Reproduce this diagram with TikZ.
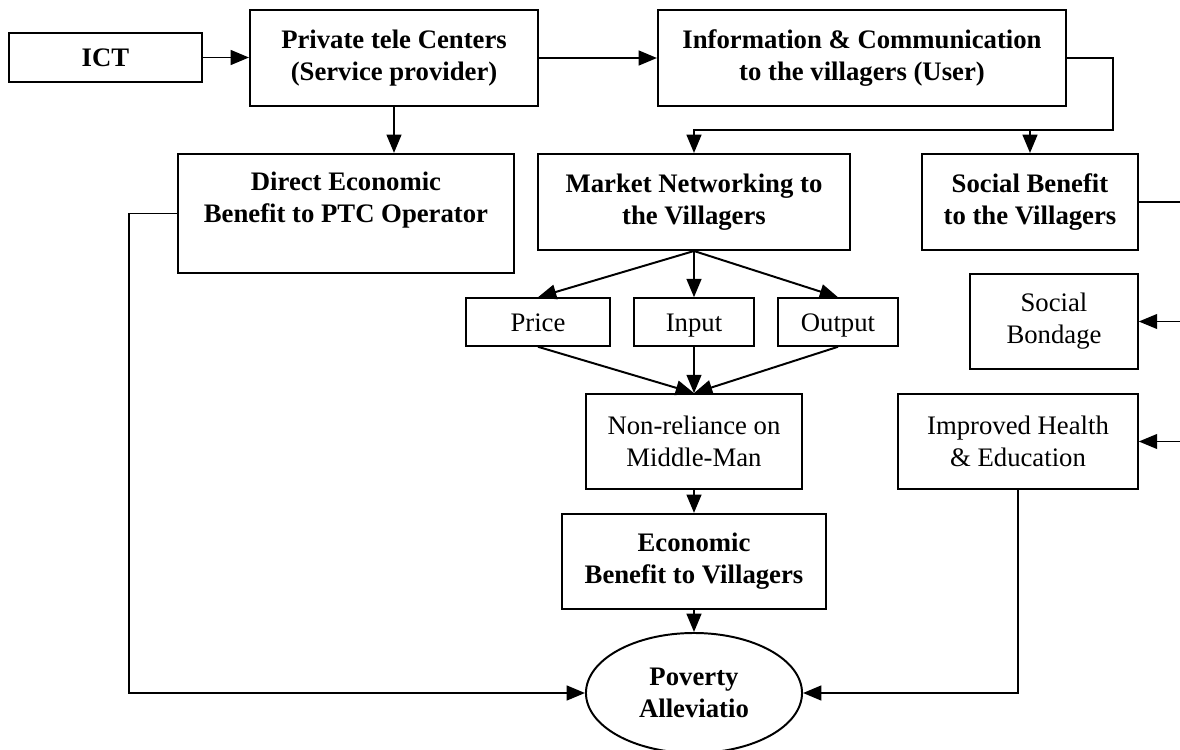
\documentclass[tikz,border=0pt]{standalone}
\usepackage{fontspec}
\setmainfont{Liberation Serif}
\usepackage{tikz}
\usetikzlibrary{shapes.geometric,arrows.meta}

\begin{document}
\begin{tikzpicture}[x=0.025cm,y=-0.025cm,line width=1.4pt,
  >={Triangle[length=13pt,width=10.5pt]},
  blk/.style={draw,rectangle,inner sep=0pt,align=center,font=\fontsize{19}{22.8}\selectfont\bfseries},
  plain/.style={draw,rectangle,inner sep=0pt,align=center,line width=1.1pt,font=\fontsize{19}{22.8}\selectfont},
  tag/.style={plain,minimum height=1.2cm,text height=16pt,text depth=2pt}]
\useasboundingbox (0,0) rectangle (1180,750);
\node[blk,minimum width=4.83cm,minimum height=1.23cm] (ict) at (105.5,57.5) {ICT};
\node[blk,minimum width=7.2cm,minimum height=2.4cm] (ptc) at (394,58) {Private tele Centers\\(Service provider)};
\node[blk,minimum width=10.2cm,minimum height=2.4cm] (info) at (862,58) {Information \& Communication\\to the villagers (User)};
\node[blk,minimum width=8.4cm,minimum height=2.98cm] (deb) at (346,213.5) {Direct Economic\\Benefit to PTC Operator\\\mbox{}};
\node[blk,minimum width=7.8cm,minimum height=2.4cm] (mkt) at (694,202) {Market Networking to\\the Villagers};
\node[blk,minimum width=5.4cm,minimum height=2.4cm] (soc) at (1030,202) {Social Benefit\\to the Villagers};
\node[tag,minimum width=3.6cm] (price) at (538,322) {Price};
\node[tag,minimum width=3cm] (input) at (694,322) {Input};
\node[tag,minimum width=3cm] (output) at (838,322) {Output};
\node[plain,minimum width=4.2cm,minimum height=2.38cm] (bond) at (1054,321.5) {Social\\Bondage};
\node[plain,minimum width=5.4cm,minimum height=2.38cm] (nonrel) at (694,441.5) {Non-reliance on\\Middle-Man};
\node[plain,minimum width=6cm,minimum height=2.38cm] (health) at (1018,441.5) {Improved Health\\\& Education};
\node[blk,minimum width=6.6cm,minimum height=2.38cm] (econ) at (694,561.5) {Economic\\Benefit to Villagers};
\node[blk,ellipse,minimum width=5.4cm,minimum height=3cm] (pov) at (694,693) {Poverty\\Alleviatio};

\draw[->] (ict.east) -- (ict.east -| ptc.west);
\draw[->] (ptc) -- (info);
\draw[->] (ptc.south) -- (ptc.south |- deb.north);
\coordinate (bus) at (1113,130);
\draw[->] (info.east) -| (bus) -| (mkt.north);
\draw[->] (soc.north |- bus) -- (soc.north);
\draw[->] (deb.west) -- ++(-48,0) |- (pov.west);
\foreach \n in {price,input,output} \draw[->] (mkt.south) -- (\n.north);
\foreach \n in {price,input,output} \draw[->] (\n.south) -- (nonrel.north);
\draw[->] (nonrel) -- (econ);
\draw[->] (econ) -- (pov);
\draw[->] (health.south) |- (pov.east);
% right side feed, its riser lies just past the page edge
\coordinate (rim) at (1184,202);
\draw (soc.east) -- (rim) -- (rim |- health.east);
\draw[->,line width=1.1pt] (rim |- bond.east) -- (bond.east);
\draw[->,line width=1.1pt] (rim |- health.east) -- (health.east);
\end{tikzpicture}
\end{document}
